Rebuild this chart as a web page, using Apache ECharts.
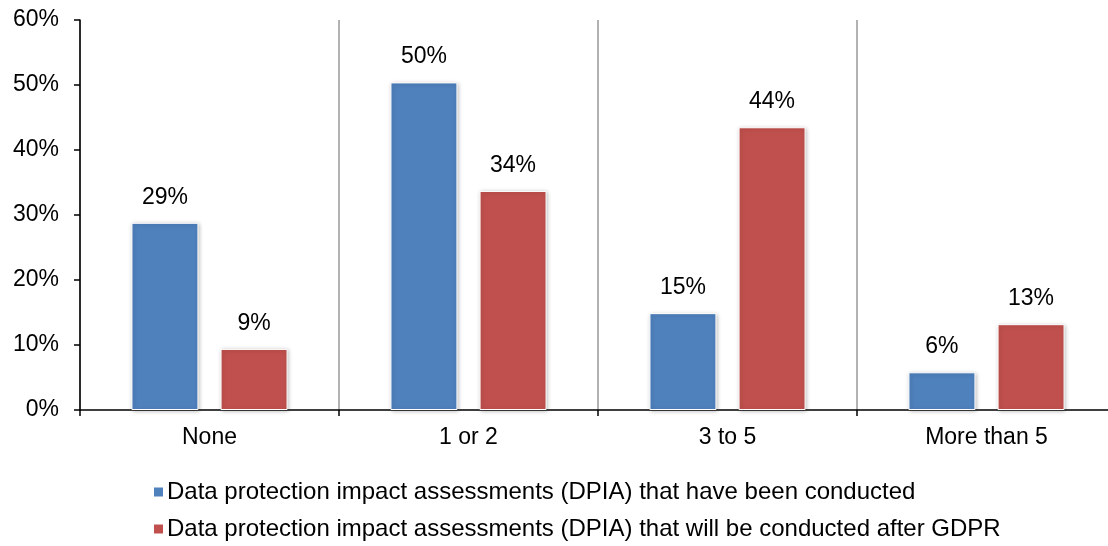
<!DOCTYPE html>
<html>
<head>
<meta charset="utf-8">
<script src="https://cdn.jsdelivr.net/npm/echarts@6/dist/echarts.min.js"></script>
<style>
  html, body { margin: 0; padding: 0; background: #fff; }
  #chart { width: 1108px; height: 546px; }
</style>
</head>
<body>
<div id="chart"></div>
<script>
// 类别
var categories = ['None', '1 or 2', '3 to 5', 'More than 5']
// 已开展的 DPIA
var conducted = [28.8, 50.4, 14.9, 5.8]
// GDPR 之后将开展的 DPIA
var willConduct = [9.4, 33.7, 43.5, 13.2]
var seriesNames = [
  'Data protection impact assessments (DPIA) that have been conducted',
  'Data protection impact assessments (DPIA) that will be conducted after GDPR'
]

var font = 'Liberation Sans, Arial, sans-serif'
var myChart = echarts.init(document.getElementById('chart'))

var barStyle = function (color) {
  return {
    color: color,
    borderColor: '#fff',
    borderWidth: 1,
    shadowColor: 'rgba(0,0,0,0.25)',
    shadowBlur: 4,
    shadowOffsetX: 1,
    shadowOffsetY: 1
  }
}
var labelStyle = {
  show: true,
  position: 'top',
  distance: 14,
  color: '#000',
  fontSize: 23,
  fontFamily: font,
  formatter: function (p) {
    return Math.round(p.value) + '%'
  }
}

var option = {
  animation: false,
  grid: {
    left: 80,
    top: 20,
    width: 1036,
    height: 390,
    outerBoundsMode: 'none'
  },
  legend: {
    orient: 'vertical',
    left: 147,
    top: 475,
    itemWidth: 11,
    itemHeight: 11,
    itemGap: 13,
    icon: 'rect',
    textStyle: { fontSize: 24, fontFamily: font, color: '#000', padding: [0, 0, 0, -2] },
    data: seriesNames
  },
  xAxis: {
    type: 'category',
    data: categories,
    axisLine: { lineStyle: { color: '#000', width: 1.5 } },
    axisTick: { show: true, inside: false, length: 6, lineStyle: { color: '#000', width: 1.5 } },
    axisLabel: { color: '#000', fontSize: 23, fontFamily: font, margin: 16 },
    splitLine: { show: true, lineStyle: { color: '#999', width: 1.5 } }
  },
  yAxis: {
    type: 'value',
    min: 0,
    max: 60,
    interval: 10,
    axisLine: { show: true, lineStyle: { color: '#000', width: 1.5 } },
    axisTick: { show: true, length: 6, lineStyle: { color: '#000', width: 1.5 } },
    axisLabel: { color: '#000', fontSize: 23, fontFamily: font, margin: 21, formatter: '{value}%' },
    splitLine: { show: false }
  },
  series: [
    {
      name: seriesNames[0],
      type: 'bar',
      data: conducted,
      barWidth: 67,
      barGap: '33%',
      itemStyle: barStyle('#4F81BD'),
      label: labelStyle
    },
    {
      name: seriesNames[1],
      type: 'bar',
      data: willConduct,
      barWidth: 67,
      itemStyle: barStyle('#C0504D'),
      label: labelStyle
    }
  ]
}
myChart.setOption(option)
</script>
</body>
</html>
